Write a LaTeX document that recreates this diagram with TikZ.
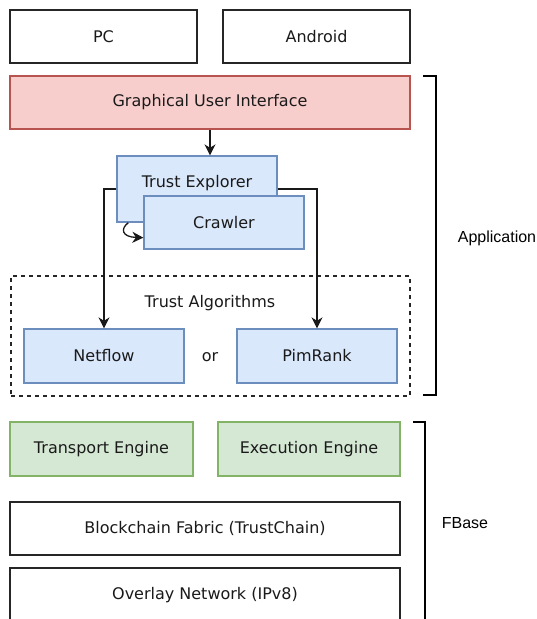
\documentclass[tikz,border=0pt]{standalone}
\usepackage{fontspec}
\setmainfont{DejaVu Sans}
\newfontfamily\arialfont{Liberation Sans}
\usetikzlibrary{arrows.meta,calc}
\definecolor{pinkfill}{HTML}{F8CECC}
\definecolor{pinkline}{HTML}{B85450}
\definecolor{bluefill}{HTML}{DAE8FC}
\definecolor{blueline}{HTML}{6C8EBF}
\definecolor{greenfill}{HTML}{D5E8D4}
\definecolor{greenline}{HTML}{82B366}
\definecolor{textgray}{HTML}{1A1A1A}
\tikzset{
  x=1pt, y=-1pt,
  every node/.style={font=\fontsize{16}{19}\selectfont, text=textgray, inner sep=0pt},
  plainbox/.style={draw=black!85, line width=1.3pt, fill=white},
  pinkbox/.style={draw=pinkline, line width=1.3pt, fill=pinkfill},
  bluebox/.style={draw=blueline, line width=1.3pt, fill=bluefill},
  greenbox/.style={draw=greenline, line width=1.3pt, fill=greenfill},
  conn/.style={draw=black!90, line width=1.3pt, -{Stealth[length=11pt,width=11pt,inset=3.5pt]}},
  brace/.style={draw=black, line width=2.6pt},
  sidelabel/.style={font=\arialfont\fontsize{16}{19}\selectfont, text=black}
}
\begin{document}
\begin{tikzpicture}
\clip (0,0) rectangle (536,619);
\fill[white] (0,0) rectangle (536,619);

% top
\node[plainbox, minimum width=187pt, minimum height=53pt] (pc) at (103.5,36.5) {PC};
\node[plainbox, minimum width=187pt, minimum height=53pt] (android) at (316.5,36.5) {Android};
\node[pinkbox, minimum width=400pt, minimum height=53pt] (gui) at (210,102.5) {Graphical User Interface};

% trust algorithms group
\node[draw=black!85, line width=1.3pt, dash pattern=on 4pt off 4pt, minimum width=399pt, minimum height=120pt] (algs) at (210.5,336) {};
\node (algtitle) at (210,303) {Trust Algorithms};
\node[bluebox, minimum width=160pt, minimum height=54pt] (net) at (104,356) {Netflow};
\node[bluebox, minimum width=160pt, minimum height=54pt] (pim) at (317,356) {PimRank};
\node (or) at (210,357) {or};

% explorer + crawler
\node[bluebox, minimum width=160pt, minimum height=66pt] (te) at (197,189) {};
\node (tetext) at (197,183) {Trust Explorer};
\node[bluebox, minimum width=160pt, minimum height=53pt] (crawler) at (224,222.5) {Crawler};

% connectors
\draw[conn] (gui.south) -- (gui.south |- te.north);
\draw[conn] (te.west) -| (net.north);
\draw[conn] (te.east) -| (pim.north);
\coordinate (loopstart) at ($(te.south west)+(12,0)$);
\coordinate (loopend) at ($(crawler.south west)+(0,-12)$);
\draw[conn] (loopstart) .. controls (120,229) and (122,237) .. (loopend);

% FBase
\node[greenbox, minimum width=183pt, minimum height=54pt] (transport) at (101.5,449) {Transport Engine};
\node[greenbox, minimum width=182pt, minimum height=54pt] (exec) at (309,449) {Execution Engine};
\node[plainbox, minimum width=390pt, minimum height=53pt] (chain) at (205,528.5) {Blockchain Fabric (TrustChain)};
\node[plainbox, minimum width=390pt, minimum height=80pt] (overlay) at (205,608) {};
\node (overlaytext) at (205,595) {Overlay Network (IPv8)};

% brackets
\coordinate (appA) at (423,76);
\coordinate (appB) at (436,76);
\coordinate (appC) at (436,395);
\coordinate (appD) at (423,395);
\draw[brace] (appA) -- (appB) -- (appC) -- (appD);
\node[sidelabel] (applabel) at (497,238) {Application};

\coordinate (fbA) at (413,422);
\coordinate (fbB) at (425,422);
\coordinate (fbC) at (425,640);
\draw[brace] (fbA) -- (fbB) -- (fbC);
\node[sidelabel] (fblabel) at (465,523) {FBase};
\end{tikzpicture}
\end{document}
